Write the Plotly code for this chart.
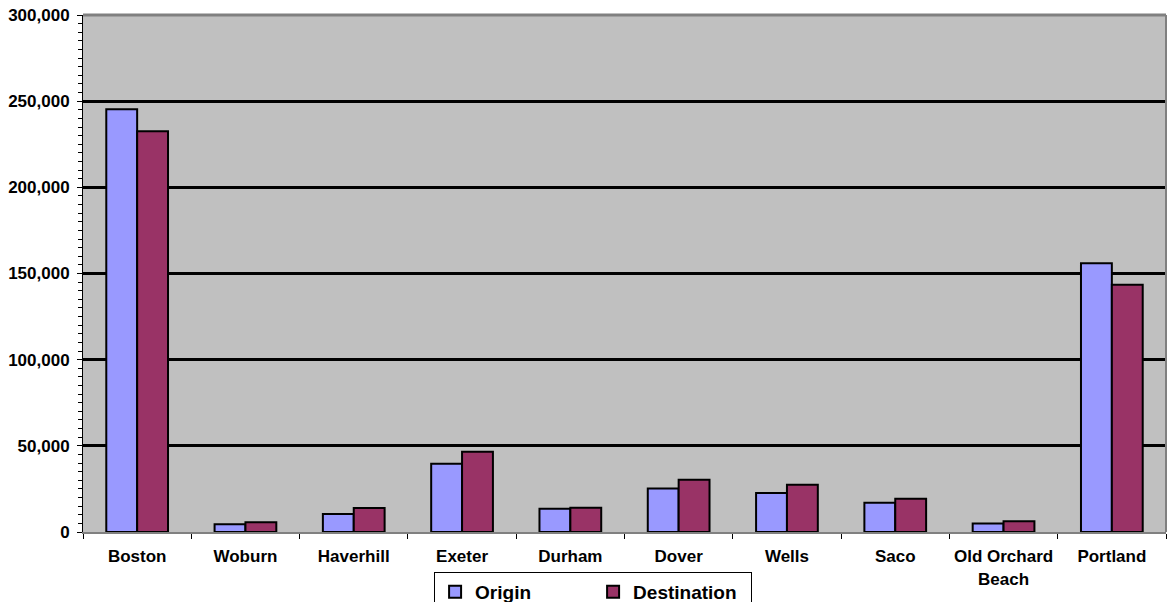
import plotly.graph_objects as go

categories = ["Boston", "Woburn", "Haverhill", "Exeter", "Durham", "Dover",
              "Wells", "Saco", "Old Orchard<br>Beach", "Portland"]
origin = [245300, 4500, 10400, 39600, 13500, 25300, 22600, 17000, 5000, 156000]
destination = [232600, 5600, 13900, 46600, 14100, 30300, 27400, 19300, 6200, 143500]
y_ticks = [0, 50000, 100000, 150000, 200000, 250000, 300000]

FONT = "Liberation Sans, Arial, sans-serif"

fig = go.Figure()
fig.add_trace(go.Bar(name="Origin", x=categories, y=origin,
                     marker=dict(color="#9999FF", line=dict(color="black", width=2))))
fig.add_trace(go.Bar(name="Destination", x=categories, y=destination,
                     marker=dict(color="#993366", line=dict(color="black", width=2))))

fig.update_layout(
    width=1167, height=602,
    margin=dict(l=83, r=1, t=15, b=70, autoexpand=False),
    paper_bgcolor="white",
    plot_bgcolor="#C0C0C0",
    barmode="group",
    bargap=0.43,
    bargroupgap=0,
    font=dict(family=FONT, color="black"),
    showlegend=True,
    legend=dict(
        orientation="h",
        x=0.471, xanchor="center",
        y=-0.0774, yanchor="top",
        bordercolor="black", borderwidth=1,
        bgcolor="white",
        font=dict(family=FONT, size=19, weight="bold", color="black"),
        entrywidth=113,
        itemwidth=30,
    ),
    xaxis=dict(
        type="category",
        showgrid=False,
        showline=True, linecolor="#808080", linewidth=2,
        ticks="outside", tickson="boundaries", ticklen=5, tickcolor="black",
        tickfont=dict(family=FONT, size=17, weight="bold", color="black"),
        ticklabelstandoff=8,
        zeroline=False,
    ),
    yaxis=dict(
        range=[0, 300000],
        tickvals=y_ticks,
        tickformat=",",
        showgrid=True, gridcolor="black", gridwidth=2.5,
        showline=True, linecolor="black", linewidth=1,
        ticks="outside", ticklen=5, tickcolor="black",
        minor=dict(dtick=5000, ticks="outside", ticklen=4, tickcolor="black", showgrid=False),
        tickfont=dict(family=FONT, size=17, weight="bold", color="black"),
        ticklabelstandoff=4,
        zeroline=False,
    ),
    shapes=[
        dict(type="line", xref="paper", yref="paper", x0=0, x1=1, y0=1, y1=1,
             line=dict(color="#808080", width=3)),
        dict(type="line", xref="paper", yref="paper", x0=1, x1=1, y0=0, y1=1,
             line=dict(color="#808080", width=2)),
    ],
)

fig.write_html("out.html")
